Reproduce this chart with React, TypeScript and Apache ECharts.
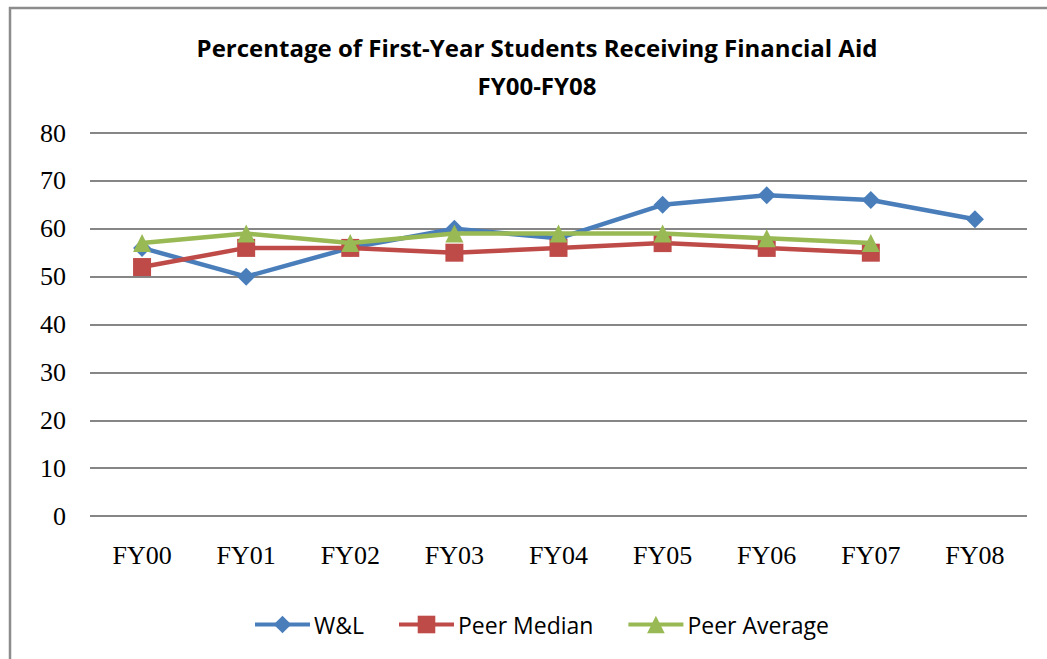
import React, { useEffect, useRef } from "react";
import * as echarts from "echarts";

const categories = ["FY00", "FY01", "FY02", "FY03", "FY04", "FY05", "FY06", "FY07", "FY08"];
const wl = [56, 50, 56, 60, 58, 65, 67, 66, 62];
const peerMedian = [52, 56, 56, 55, 56, 57, 56, 55, null];
const peerAverage = [57, 59, 57, 59, 59, 59, 58, 57, null];
const titleLines = ["Percentage of First-Year Students Receiving Financial Aid", "FY00-FY08"];

export default function App() {
  const ref = useRef<HTMLDivElement>(null);
  useEffect(() => {
    if (!ref.current) return;
    const chart = echarts.init(ref.current, undefined, { renderer: "svg" });
    const sansFont = "Open Sans";
    chart.setOption({
      animation: false,
      backgroundColor: "#ffffff",
      graphic: [
        {
          type: "rect",
          shape: { x: 10, y: 8, width: 1100, height: 700 },
          style: { fill: "none", stroke: "#8c8c8c", lineWidth: 2.5 },
          z: 0,
        },
      ],
      title: {
        text: titleLines.join("\n"),
        left: 532,
        top: 23,
        textAlign: "center",
        textStyle: {
          fontFamily: sansFont,
          fontWeight: "bold",
          fontSize: 24,
          lineHeight: 38,
          color: "#000",
        },
      },
      legend: {
        bottom: 18,
        left: 248,
        itemWidth: 55,
        itemHeight: 22,
        itemGap: 33,
        lineStyle: { width: 4 },
        textStyle: { fontFamily: sansFont, fontSize: 23, color: "#000", padding: [0, 0, 0, -1] },
        data: ["W&L", "Peer Median", "Peer Average"],
      },
      grid: { left: 90, right: 20, top: 133, bottom: 143 },
      xAxis: {
        type: "category",
        data: categories,
        boundaryGap: true,
        axisLine: { show: false },
        axisTick: { show: false },
        axisLabel: { fontFamily: "Liberation Serif", fontSize: 26, color: "#000", margin: 26 },
      },
      yAxis: {
        type: "value",
        min: 0,
        max: 80,
        interval: 10,
        axisLine: { show: false },
        axisTick: { show: false },
        axisLabel: { fontFamily: "Liberation Serif", fontSize: 26, color: "#000", margin: 24 },
        splitLine: { lineStyle: { color: "#868686", width: 2 } },
      },
      series: [
        {
          name: "W&L",
          type: "line",
          data: wl,
          symbol: "diamond",
          symbolSize: 18,
          color: "#4A7EBB",
          lineStyle: { width: 4.5 },
          z: 2,
        },
        {
          name: "Peer Median",
          type: "line",
          data: peerMedian,
          symbol: "rect",
          symbolSize: 18,
          color: "#BE4B48",
          lineStyle: { width: 4.5 },
          z: 3,
        },
        {
          name: "Peer Average",
          type: "line",
          data: peerAverage,
          symbol: "triangle",
          symbolSize: 18,
          color: "#98B954",
          lineStyle: { width: 4.5 },
          z: 4,
        },
      ],
    });
    return () => chart.dispose();
  }, []);
  return <div ref={ref} style={{ position: "fixed", left: 0, top: 0, width: 1047, height: 659 }} />;
}
